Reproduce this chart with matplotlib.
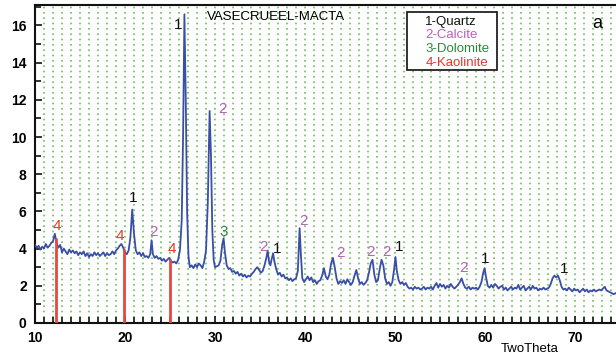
import matplotlib
matplotlib.use('Agg')
import matplotlib.pyplot as plt
from matplotlib.patches import Rectangle
from matplotlib.ticker import MultipleLocator

plt.rcParams['font.family'] = ['Liberation Sans Narrow', 'Liberation Sans', 'DejaVu Sans']

# XRD pattern (2-theta in degrees, intensity)
two_theta = [
    10.0, 10.2, 10.4, 10.6, 10.8, 11.0, 11.2, 11.4, 11.6, 11.8, 12.0, 12.2, 12.4, 12.6, 12.8,
    13.0, 13.2, 13.4, 13.6, 13.8, 14.0, 14.2, 14.4, 14.6, 14.8, 15.0, 15.2, 15.4, 15.6, 15.8,
    16.0, 16.2, 16.4, 16.6, 16.8, 17.0, 17.2, 17.4, 17.6, 17.8, 18.0, 18.2, 18.4, 18.6, 18.8,
    19.0, 19.2, 19.4, 19.6, 19.8, 20.0, 20.2, 20.4, 20.6, 20.8, 21.0, 21.2, 21.4, 21.6, 21.8,
    22.0, 22.2, 22.4, 22.6, 22.8, 22.95, 23.1, 23.3, 23.5, 23.7, 23.9, 24.1, 24.3, 24.5, 24.7,
    24.9, 25.1, 25.3, 25.5, 25.7, 25.9, 26.1, 26.3, 26.45, 26.6, 26.75, 26.9, 27.05, 27.2, 27.4,
    27.6, 27.8, 28.0, 28.2, 28.4, 28.6, 28.8, 29.0, 29.2, 29.4, 29.55, 29.7, 29.85, 30.0, 30.2,
    30.4, 30.6, 30.8, 30.95, 31.1, 31.3, 31.5, 31.7, 31.9, 32.1, 32.3, 32.5, 32.7, 32.9, 33.1,
    33.3, 33.5, 33.7, 33.9, 34.1, 34.3, 34.5, 34.7, 34.9, 35.1, 35.3, 35.5, 35.7, 35.85, 36.0,
    36.15, 36.3, 36.45, 36.6, 36.8, 37.0, 37.2, 37.4, 37.6, 37.8, 38.0, 38.2, 38.4, 38.6, 38.8,
    39.0, 39.2, 39.4, 39.55, 39.7, 39.9, 40.1, 40.3, 40.5, 40.7, 40.9, 41.1, 41.3, 41.5, 41.7,
    41.9, 42.1, 42.3, 42.5, 42.7, 42.9, 43.1, 43.3, 43.5, 43.7, 43.9, 44.1, 44.3, 44.5, 44.7,
    44.9, 45.1, 45.3, 45.5, 45.7, 45.9, 46.1, 46.3, 46.5, 46.7, 46.9, 47.1, 47.3, 47.5, 47.7,
    47.9, 48.1, 48.3, 48.5, 48.7, 48.9, 49.1, 49.3, 49.5, 49.7, 49.9, 50.05, 50.2, 50.4, 50.6,
    50.8, 51.0, 51.2, 51.4, 51.6, 51.8, 52.0, 52.2, 52.4, 52.6, 52.8, 53.0, 53.2, 53.4, 53.6,
    53.8, 54.0, 54.2, 54.4, 54.6, 54.8, 55.0, 55.2, 55.4, 55.6, 55.8, 56.0, 56.2, 56.4, 56.6,
    56.8, 57.0, 57.2, 57.4, 57.6, 57.8, 58.0, 58.2, 58.4, 58.6, 58.8, 59.0, 59.2, 59.4, 59.6,
    59.8, 59.95, 60.1, 60.3, 60.5, 60.7, 60.9, 61.1, 61.3, 61.5, 61.7, 61.9, 62.1, 62.3, 62.5,
    62.7, 62.9, 63.1, 63.3, 63.5, 63.7, 63.9, 64.1, 64.3, 64.5, 64.7, 64.9, 65.1, 65.3, 65.5,
    65.7, 65.9, 66.1, 66.3, 66.5, 66.7, 66.9, 67.1, 67.3, 67.5, 67.7, 67.9, 68.1, 68.3, 68.5,
    68.7, 68.9, 69.1, 69.3, 69.5, 69.7, 69.9, 70.1, 70.3, 70.5, 70.7, 70.9, 71.1, 71.3, 71.5,
    71.7, 71.9, 72.1, 72.3, 72.5, 72.7, 72.9, 73.1, 73.3, 73.5, 73.7, 73.9, 74.1, 74.3, 74.5,
]
intensity = [
    4.2, 4.05, 4.15, 3.95, 4.1, 4.0, 4.25, 4.05, 4.15, 4.3, 4.4, 4.8, 4.3, 4.05, 4.2,
    3.8, 4.0, 3.85, 3.7, 3.95, 3.8, 3.9, 3.75, 3.85, 3.65, 3.8, 3.7, 3.85, 3.6, 3.75,
    3.55, 3.7, 3.6, 3.8, 3.65, 3.75, 3.6, 3.7, 3.8, 3.6, 3.75, 3.65, 3.7, 3.85, 3.7,
    3.9, 4.0, 4.15, 4.25, 4.05, 3.8, 3.7, 3.9, 4.6, 6.1, 4.8, 3.9, 3.7, 3.8, 3.6,
    3.75, 3.55, 3.6, 3.5, 3.7, 4.45, 3.7, 3.5, 3.6, 3.45, 3.5, 3.35, 3.45, 3.3, 3.4,
    3.5, 3.35, 3.25, 3.3, 3.2, 3.4, 3.9, 5.5, 10.0, 16.6, 12.0, 6.0, 3.6, 3.0, 3.1,
    2.95, 3.15, 3.0, 3.2, 3.1, 2.95, 3.3, 3.9, 6.5, 11.4, 9.0, 5.0, 3.4, 3.0, 3.05,
    3.1, 3.35, 4.2, 4.55, 3.8, 3.1, 2.9, 2.95, 2.75, 2.8, 2.65, 2.75, 2.55, 2.65, 2.5,
    2.6, 2.45, 2.55, 2.5, 2.65, 2.75, 2.9, 3.0, 2.85, 2.7, 2.8, 3.1, 3.5, 3.9, 3.3,
    3.1, 3.45, 3.75, 3.3, 2.9, 2.6, 2.7, 2.5, 2.6, 2.4, 2.45, 2.3, 2.4, 2.25, 2.35,
    2.4, 2.8, 5.1, 3.6, 2.4, 2.2, 2.35, 2.5, 2.3, 2.45, 2.2, 2.3, 2.1, 2.25, 2.3,
    2.55, 2.95, 2.5, 2.35, 2.6, 3.2, 3.5, 3.0, 2.4, 2.1, 2.25, 2.15, 2.3, 2.1, 2.35,
    2.2, 2.05, 2.2, 2.55, 2.85, 2.4, 2.1, 2.2, 2.05, 2.15, 2.3, 2.7, 3.2, 3.4, 2.6,
    2.2, 2.3, 2.9, 3.4, 3.1, 2.4, 2.1, 2.2, 2.0, 2.2, 2.9, 3.55, 2.8, 2.3, 2.1,
    2.2, 2.05, 2.15, 1.95, 1.85, 1.9, 1.8, 1.95, 1.85, 1.9, 1.8, 1.85, 1.95, 1.8, 1.9,
    1.85, 1.95, 1.8, 2.0, 2.15, 1.9, 2.1, 1.95, 2.05, 1.85, 2.0, 1.9, 2.1, 1.95, 1.85,
    1.95, 2.05, 2.2, 2.4, 2.1, 1.9, 1.85, 1.95, 1.8, 1.9, 1.85, 1.9, 1.8, 1.95, 2.2,
    2.7, 2.95, 2.5, 2.0, 1.9, 2.05, 1.9, 2.1, 2.0, 1.85, 1.95, 2.0, 1.8, 1.9, 1.75,
    1.85, 1.95, 1.8, 1.9, 1.85, 2.05, 1.8, 1.9, 2.0, 1.75, 1.85, 1.95, 1.8, 2.0, 1.85,
    1.9, 1.75, 1.85, 1.8, 1.9, 1.8, 1.85, 1.9, 2.1, 2.4, 2.55, 2.45, 2.55, 2.3, 1.95,
    1.8, 1.85, 1.75, 1.9, 1.8, 1.7, 1.85, 1.75, 1.8, 1.65, 1.75, 1.85, 1.7, 1.8, 1.65,
    1.75, 1.7, 1.8, 1.7, 1.75, 1.8, 1.75, 1.85, 1.95, 1.75, 1.7, 1.65, 1.6, 1.55, 1.6,
]

# kaolinite reference sticks
kaolinite_pos = [12.3, 19.9, 25.0]
kaolinite_height = [4.55, 4.0, 3.45]

# peak labels: phase number, 2-theta, height
peak_phase = ['4', '4', '1', '2', '4', '1', '2', '3', '2', '1', '2', '2', '2', '2', '1', '2', '1', '1']
peak_x = [12.4, 19.4, 20.9, 23.2, 25.2, 25.9, 30.8, 31.0, 35.4, 36.9, 39.8, 43.9, 47.3, 49.0, 50.4, 57.6, 60.0, 68.8]
peak_y = [5.2, 4.7, 6.7, 4.9, 4.0, 16.0, 11.5, 4.9, 4.1, 4.0, 5.5, 3.75, 3.8, 3.8, 4.1, 2.95, 3.45, 2.9]

phase_names = ['1-Quartz', '2-Calcite', '3-Dolomite', '4-Kaolinite']
phase_colors = {'1': '#111111', '2': '#b563b8', '3': '#2a8a3c', '4': '#e8352c'}

fig = plt.figure(figsize=(6.16, 3.56), dpi=100)
ax = fig.add_axes([35 / 616, 1 - 323 / 356, 581 / 616, 318 / 356])

ax.set_xlim(10, 74.55)
ax.set_ylim(0, 17.1)

# green dotted grid at every degree
ax.xaxis.set_major_locator(MultipleLocator(10))
ax.xaxis.set_minor_locator(MultipleLocator(1))
ax.yaxis.set_major_locator(MultipleLocator(2))
ax.yaxis.set_minor_locator(MultipleLocator(1))
ax.grid(True, which='both', axis='x', color='#6cc05a', linestyle=(0, (1, 2.2)), linewidth=1.2)
ax.set_axisbelow(True)

ax.plot(two_theta, intensity, color='#3a4ea6', linewidth=1.3, zorder=3)
ax.vlines(kaolinite_pos, 0, kaolinite_height, color='#e8473f', linewidth=2, zorder=4)

for ph, x, y in zip(peak_phase, peak_x, peak_y):
    ax.text(x, y, ph, color=phase_colors[ph], fontsize=11, ha='center', va='center', zorder=5)

# sample name and legend box
ax.text(0.415, 0.962, 'VASECRUEEL-MACTA', transform=ax.transAxes, fontsize=9.5,
        ha='center', va='center')
ax.add_patch(Rectangle((0.640, 0.796), 0.155, 0.182, transform=ax.transAxes,
                       facecolor='white', edgecolor='#222222', linewidth=1.3, zorder=6))
legend_y = [0.947, 0.905, 0.862, 0.818]
for name, y in zip(phase_names, legend_y):
    ax.text(0.672, y, name, transform=ax.transAxes, fontsize=9.5,
            color=phase_colors[name[0]], ha='left', va='center', zorder=7)
ax.text(0.967, 0.943, 'a', transform=ax.transAxes, fontsize=13, ha='center', va='center')

for side in ['left', 'bottom', 'top']:
    ax.spines[side].set_linewidth(1.5)
    ax.spines[side].set_color('#111111')
ax.spines['right'].set_visible(False)
ax.tick_params(which='both', direction='in', color='#111111', width=1.2)
ax.tick_params(which='major', length=5, labelsize=10, pad=6)
ax.tick_params(which='minor', length=4)
ax.tick_params(axis='y', right=False)
ax.tick_params(axis='x', top=False)
for lbl in ax.get_xticklabels() + ax.get_yticklabels():
    lbl.set_fontweight('bold')

fig.text(530 / 616, 1 - 349 / 356, 'TwoTheta', fontsize=9.5, ha='center', va='center')

fig.savefig('out.png', dpi=100)
